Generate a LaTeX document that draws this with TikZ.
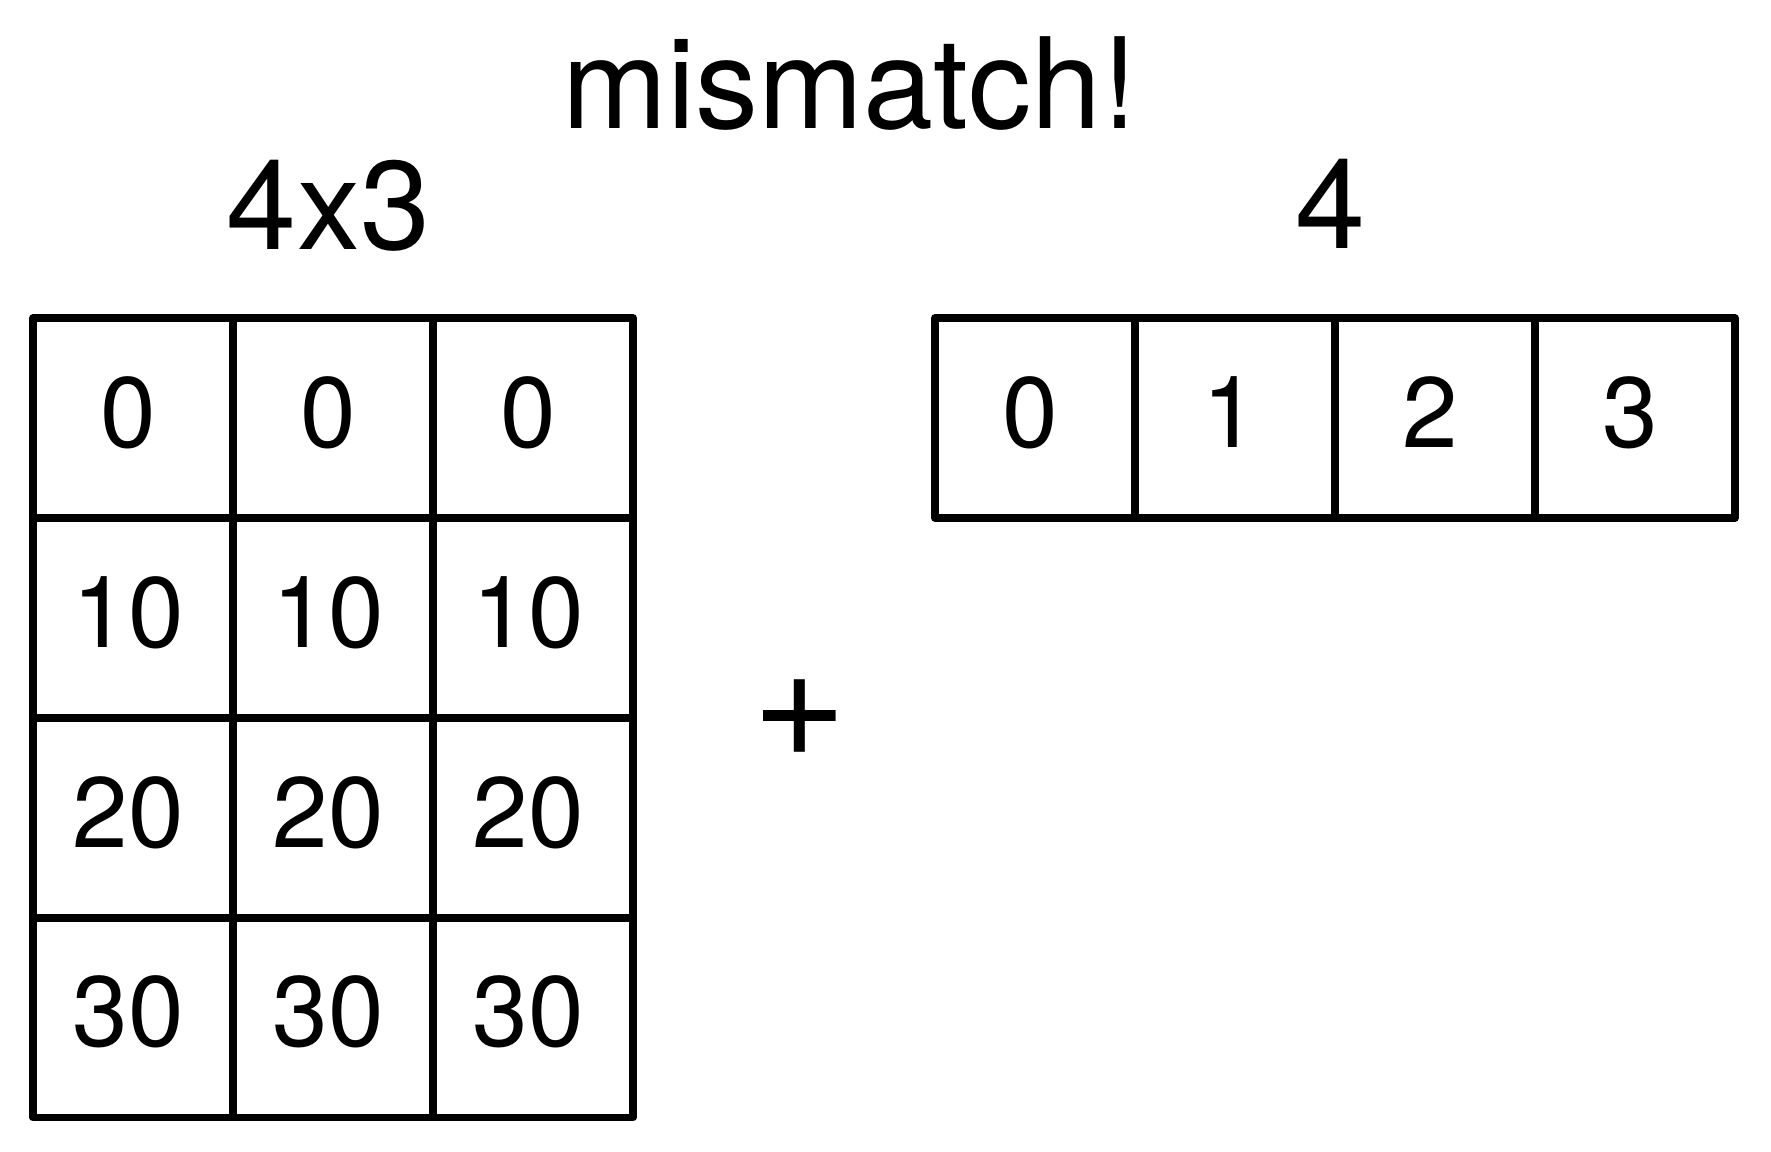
\documentclass[tikz,border=0pt]{standalone}
\usepackage{fontspec}
\setmainfont{TeX Gyre Heros}
\begin{document}
\begin{tikzpicture}[x=0.5pt,y=-0.5pt,
  cellbox/.style={draw, line width=3.75pt, line join=round, minimum width=100pt, minimum height=100pt,
    inner sep=0pt, text height=29pt, text depth=0pt,
    font=\fontsize{50pt}{56pt}\selectfont, execute at begin node={\kern-5pt}},
  bigtext/.style={anchor=base, inner sep=0pt, font=\fontsize{63pt}{70pt}\selectfont},
  plustext/.style={anchor=base, inner sep=0pt, font=\fontsize{81pt}{88pt}\selectfont}]
\useasboundingbox (0,0) rectangle (1771,1151);
% titles
\node[bigtext] (title) at (850,128) {mismatch!};
\node[bigtext] (shapeA) at (328.5,249) {4x3};
\node[bigtext] (shapeB) at (1330.5,248) {4};
% left 4x3 array
\node[cellbox] (a11) at (133,418) {0};
\node[cellbox] (a12) at (333,418) {0};
\node[cellbox] (a13) at (533,418) {0};
\node[cellbox] (a21) at (133,618) {10};
\node[cellbox] (a22) at (333,618) {10};
\node[cellbox] (a23) at (533,618) {10};
\node[cellbox] (a31) at (133,818) {20};
\node[cellbox] (a32) at (333,818) {20};
\node[cellbox] (a33) at (533,818) {20};
\node[cellbox] (a41) at (133,1017.5) {30};
\node[cellbox] (a42) at (333,1017.5) {30};
\node[cellbox] (a43) at (533,1017.5) {30};
% right 1-d array
\node[cellbox] (b1) at (1035,418) {0};
\node[cellbox] (b2) at (1235,418) {1};
\node[cellbox] (b3) at (1435,418) {2};
\node[cellbox] (b4) at (1635,418) {3};
% plus sign
\node[plustext] (plus) at (800,756) {+};
\end{tikzpicture}
\end{document}
